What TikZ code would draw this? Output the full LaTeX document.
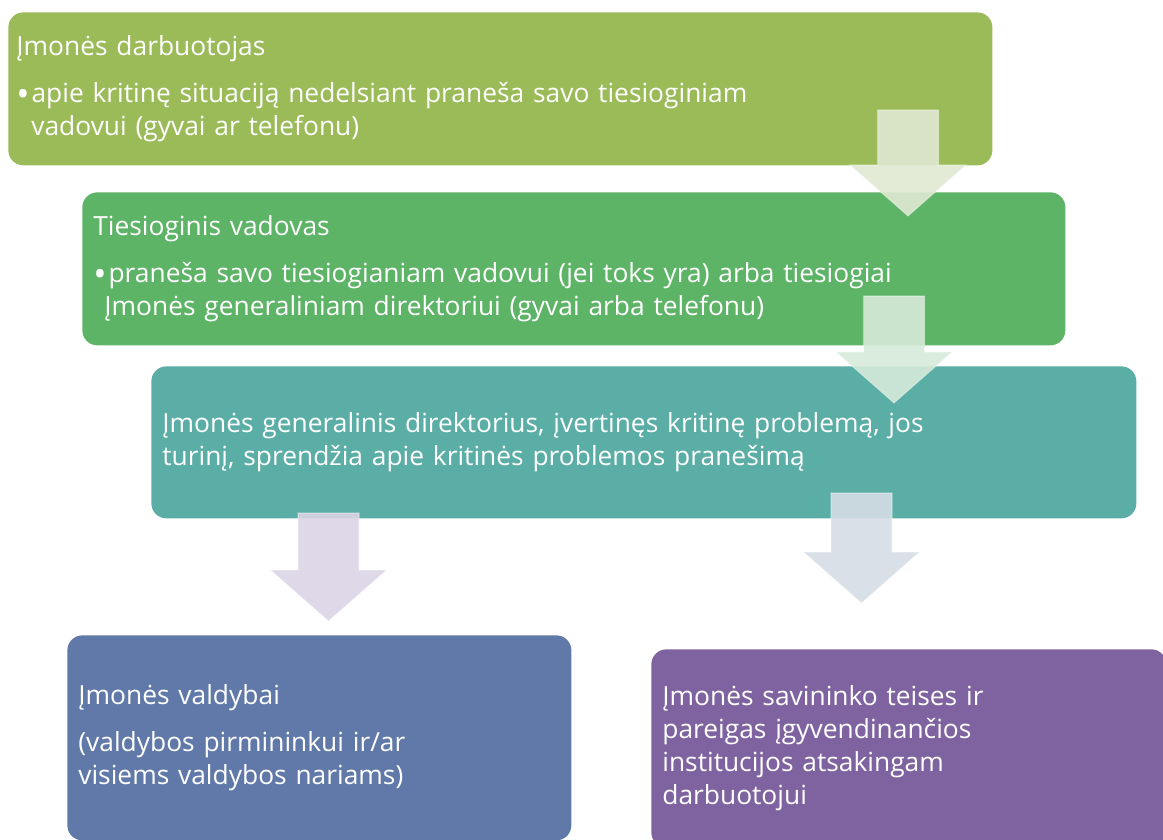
\documentclass[tikz,border=0pt]{standalone}
\usepackage{fontspec}
\setmainfont{Open Sans}
\usetikzlibrary{calc}

\definecolor{workercol}{HTML}{9BBB59}
\definecolor{leadcol}{HTML}{5DB466}
\definecolor{directorcol}{HTML}{5BAEA6}
\definecolor{boardcol}{HTML}{6079A9}
\definecolor{ownercol}{HTML}{7F63A0}
\definecolor{arrowA}{HTML}{E0E9D3}
\definecolor{arrowB}{HTML}{D6EAD9}
\definecolor{arrowC}{HTML}{DBD4E5}
\definecolor{arrowD}{HTML}{D6DDE5}

\tikzset{
  stagebox/.style={rounded corners=0.3cm, text=white, align=left, anchor=north west,
    inner xsep=0.22cm, font=\fontsize{15}{18.8}\selectfont},
  flowarrow/.style={fill opacity=0.9, draw=white, draw opacity=0.35, line width=0.6pt}
}

% block arrow: colour, start coordinate, tip coordinate
\newcommand\blockarrow[3]{%
  \filldraw[flowarrow, fill=#1] let \p1=(#2), \p2=(#3) in
    (\x1-0.61cm,\y1) -- (\x1+0.61cm,\y1) -- (\x1+0.61cm,\y2+1.02cm)
    -- (\x1+1.16cm,\y2+1.02cm) -- (\x2,\y2) -- (\x1-1.16cm,\y2+1.02cm)
    -- (\x1-0.61cm,\y2+1.02cm) -- cycle;
}
\newcommand\bul{\raisebox{-0.14em}{\fontsize{20}{18.8}\selectfont\textbullet}\hspace{0.04cm}}

\begin{document}
\begin{tikzpicture}
  \useasboundingbox (0,0) rectangle (23.26,-16.8);
  \clip (0,0) rectangle (23.26,-16.8);

  % stages
  \node[stagebox, fill=workercol, inner xsep=0.16cm, text width=19.36cm, minimum height=3.06cm]
    (worker) at (0.16,-0.24)
    {Įmonės darbuotojas\\[0.28cm]
     \bul apie kritinę situaciją nedelsiant praneša savo tiesioginiam\\
     \hspace*{0.3cm}vadovui (gyvai ar telefonu)};
  \node[stagebox, fill=leadcol, text width=19.22cm, minimum height=3.06cm]
    (lead) at (1.64,-3.84)
    {Tiesioginis vadovas\\[0.28cm]
     \bul praneša savo tiesiogianiam vadovui (jei toks yra) arba tiesiogiai\\
     \hspace*{0.22cm}Įmonės generaliniam direktoriui (gyvai arba telefonu)};
  \node[stagebox, fill=directorcol, text width=19.26cm, minimum height=3.04cm]
    (director) at (3.02,-7.32)
    {Įmonės generalinis direktorius, įvertinęs kritinę problemą, jos\\
     turinį, sprendžia apie kritinės problemos pranešimą};
  \node[stagebox, fill=boardcol, text width=9.64cm, minimum height=4.1cm]
    (board) at (1.34,-12.70)
    {Įmonės valdybai\\[0.28cm]
     (valdybos pirmininkui ir/ar\\
     visiems valdybos nariams)};
  \node[stagebox, fill=ownercol, text width=9.86cm, minimum height=3.96cm]
    (owner) at (13.02,-12.98)
    {Įmonės savininko teises ir\\
     pareigas įgyvendinančios\\
     institucijos atsakingam\\
     darbuotojui};

  % arrows
  \coordinate (a1s) at (18.16,-2.20);  \coordinate (a1t) at (18.16,-4.32);
  \coordinate (a2s) at (17.88,-5.92);  \coordinate (a2t) at (17.88,-8.06);
  \coordinate (a3s) at (6.57,-10.26);  \coordinate (a3t) at (6.57,-12.42);
  \coordinate (a4s) at (17.23,-9.86);  \coordinate (a4t) at (17.23,-12.06);
  \blockarrow{arrowA}{a1s}{a1t}
  \blockarrow{arrowB}{a2s}{a2t}
  \blockarrow{arrowC}{a3s}{a3t}
  \blockarrow{arrowD}{a4s}{a4t}
\end{tikzpicture}
\end{document}
